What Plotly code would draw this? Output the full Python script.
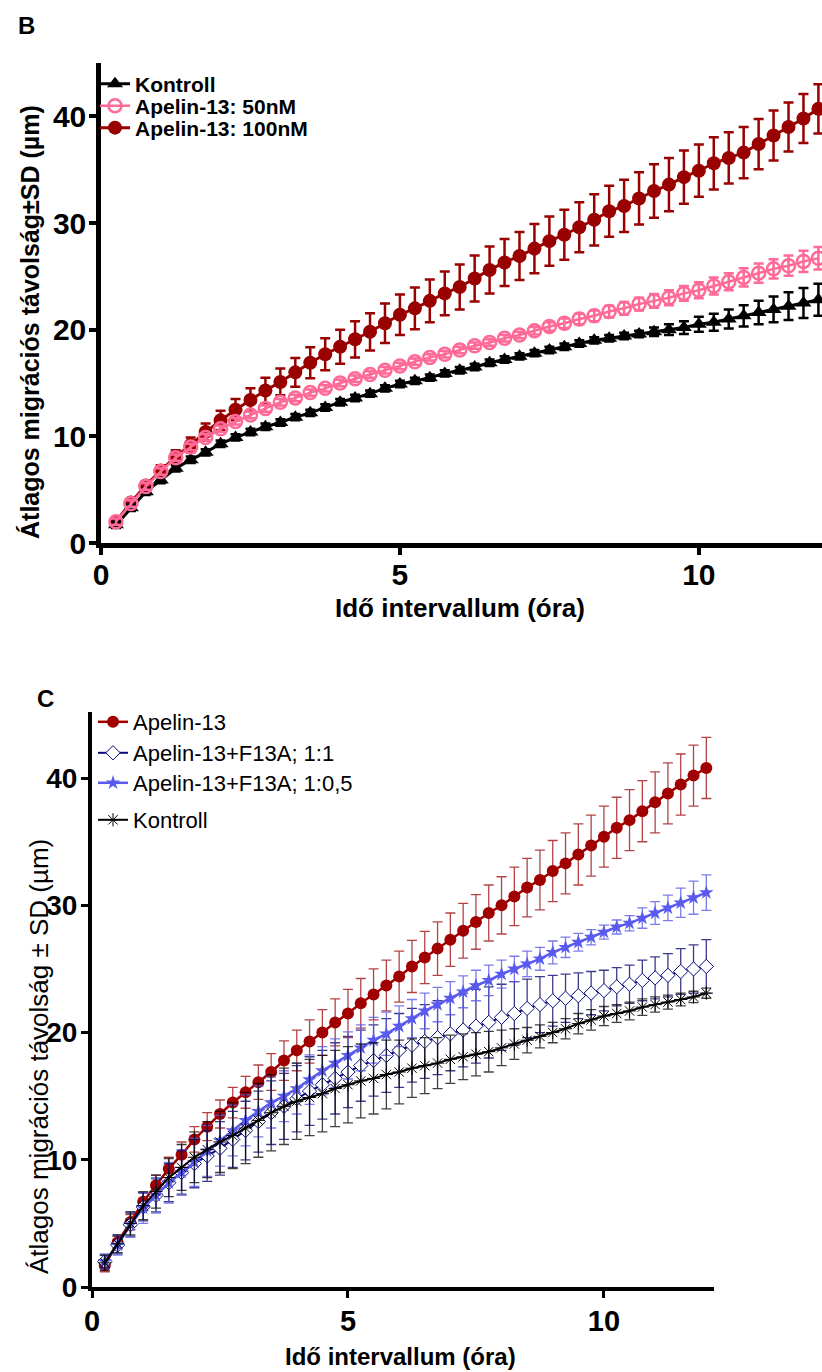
import plotly.graph_objects as go

W, H = 822, 1372

time_h = [0.25, 0.5, 0.75, 1.0, 1.25, 1.5, 1.75, 2.0, 2.25, 2.5, 2.75, 3.0,
          3.25, 3.5, 3.75, 4.0, 4.25, 4.5, 4.75, 5.0, 5.25, 5.5, 5.75, 6.0,
          6.25, 6.5, 6.75, 7.0, 7.25, 7.5, 7.75, 8.0, 8.25, 8.5, 8.75, 9.0,
          9.25, 9.5, 9.75, 10.0, 10.25, 10.5, 10.75, 11.0, 11.25, 11.5, 11.75, 12.0]

# ---- Panel B ----
b_kontroll = [1.7, 3.3, 4.8, 5.9, 7.0, 7.8, 8.5, 9.3, 9.9, 10.4, 10.9, 11.3,
              11.8, 12.2, 12.7, 13.2, 13.6, 14.0, 14.5, 14.9, 15.2, 15.5, 15.9, 16.2,
              16.5, 16.9, 17.2, 17.5, 17.8, 18.1, 18.4, 18.7, 19.0, 19.2, 19.4, 19.6,
              19.8, 20.0, 20.2, 20.5, 20.7, 21.0, 21.3, 21.6, 21.9, 22.2, 22.5, 22.8]
b_kontroll_sd = [0.3] * 36 + [0.4, 0.5, 0.6, 0.7, 0.8, 0.9, 1.0, 1.1, 1.2, 1.3, 1.4, 1.5]

b_50 = [2.0, 3.7, 5.3, 6.7, 8.0, 9.0, 9.9, 10.7, 11.4, 12.0, 12.6, 13.2,
        13.6, 14.1, 14.5, 15.0, 15.4, 15.8, 16.2, 16.6, 17.0, 17.4, 17.7, 18.1,
        18.5, 18.8, 19.2, 19.5, 19.9, 20.3, 20.6, 21.0, 21.3, 21.7, 22.0, 22.4,
        22.7, 23.0, 23.4, 23.7, 24.1, 24.5, 24.9, 25.3, 25.7, 26.0, 26.4, 26.7]
b_50_sd = [0.3] * 28 + [0.35, 0.4, 0.45, 0.5, 0.5, 0.55, 0.6, 0.6, 0.65, 0.7,
                        0.7, 0.75, 0.8, 0.8, 0.85, 0.9, 0.9, 0.95, 1.0, 1.05]

b_100 = [2.0, 3.8, 5.4, 6.8, 8.1, 9.2, 10.4, 11.5, 12.5, 13.4, 14.3, 15.1,
         16.0, 16.9, 17.7, 18.4, 19.1, 19.8, 20.6, 21.4, 22.0, 22.7, 23.4, 24.0,
         24.8, 25.6, 26.3, 26.9, 27.6, 28.3, 28.9, 29.6, 30.3, 31.1, 31.6, 32.3,
         33.0, 33.6, 34.3, 34.9, 35.6, 36.1, 36.6, 37.4, 38.2, 39.0, 39.8, 40.7]
b_100_sd = [0.3, 0.3, 0.4, 0.5, 0.6, 0.7, 0.8, 0.9, 1.0, 1.1, 1.2, 1.25,
            1.35, 1.45, 1.5, 1.6, 1.7, 1.75, 1.85, 1.9, 1.95, 2.0, 2.05, 2.1,
            2.15, 2.2, 2.2, 2.25, 2.3, 2.3, 2.35, 2.35, 2.4, 2.4, 2.45, 2.45,
            2.5, 2.5, 2.5, 2.45, 2.45, 2.4, 2.4, 2.35, 2.35, 2.3, 2.3, 2.3]

# ---- Panel C ----
c_apelin = [1.7, 3.5, 5.1, 6.7, 8.0, 9.3, 10.4, 11.6, 12.6, 13.6, 14.5, 15.3,
            16.1, 16.9, 17.8, 18.6, 19.3, 20.0, 20.8, 21.5, 22.3, 23.0, 23.7, 24.4,
            25.2, 25.9, 26.6, 27.3, 28.0, 28.7, 29.4, 30.0, 30.7, 31.4, 32.0, 32.7,
            33.3, 34.0, 34.7, 35.4, 36.1, 36.7, 37.4, 38.1, 38.8, 39.5, 40.2, 40.8]
c_apelin_sd = [0.5, 0.5, 0.6, 0.7, 0.8, 0.9, 1.0, 1.0, 1.1, 1.1, 1.2, 1.25,
               1.35, 1.45, 1.55, 1.6, 1.7, 1.8, 1.85, 1.9, 1.95, 2.0, 2.0, 2.0,
               2.05, 2.05, 2.1, 2.1, 2.15, 2.15, 2.2, 2.25, 2.3, 2.3, 2.35, 2.4,
               2.4, 2.4, 2.4, 2.4, 2.4, 2.4, 2.4, 2.4, 2.4, 2.4, 2.4, 2.4]

c_f13a_11 = [2.0, 3.3, 4.9, 6.3, 7.2, 8.2, 9.0, 9.7, 10.3, 10.9, 11.6, 12.3,
             13.0, 13.7, 14.2, 14.8, 15.4, 15.9, 16.4, 16.9, 17.4, 17.8, 18.2, 18.6,
             19.0, 19.3, 19.6, 19.9, 20.2, 20.5, 20.8, 21.2, 21.5, 21.9, 22.2, 22.5,
             22.7, 22.9, 23.1, 23.3, 23.6, 23.8, 24.1, 24.3, 24.5, 24.8, 25.0, 25.2]
c_f13a_11_sd = [0.5, 0.7, 0.9, 1.1, 1.3, 1.5, 1.7, 1.9, 2.0, 2.1, 2.2, 2.3,
                2.4, 2.5, 2.6, 2.6, 2.7, 2.7, 2.8, 2.8, 2.8, 2.8, 2.9, 2.9,
                2.9, 2.9, 2.9, 2.9, 2.9, 2.9, 2.8, 2.6, 2.5, 2.3, 2.2, 2.0,
                1.9, 1.8, 1.7, 1.6, 1.5, 1.5, 1.6, 1.65, 1.7, 1.8, 1.9, 2.1]

c_f13a_105 = [2.0, 3.3, 4.9, 6.2, 7.2, 8.2, 9.0, 9.8, 10.7, 11.5, 12.3, 13.1,
              13.8, 14.5, 15.0, 15.6, 16.3, 17.0, 17.6, 18.2, 18.8, 19.4, 19.9, 20.5,
              21.1, 21.7, 22.2, 22.7, 23.2, 23.7, 24.1, 24.6, 25.0, 25.4, 25.8, 26.3,
              26.7, 27.1, 27.5, 27.9, 28.3, 28.6, 29.0, 29.4, 29.8, 30.2, 30.6, 31.0]
c_f13a_105_sd = [0.6, 0.8, 1.0, 1.2, 1.4, 1.6, 1.8, 1.9, 2.0, 2.0, 2.0, 2.0,
                 2.0, 2.0, 2.0, 2.0, 1.95, 1.9, 1.9, 1.85, 1.8, 1.8, 1.7, 1.6,
                 1.5, 1.4, 1.35, 1.3, 1.25, 1.2, 1.2, 1.1, 1.0, 1.0, 0.9, 0.9,
                 0.8, 0.7, 0.6, 0.55, 0.55, 0.6, 0.8, 0.9, 1.0, 1.15, 1.3, 1.4]

c_kontroll = [1.9, 3.4, 5.0, 6.4, 7.5, 8.6, 9.4, 10.2, 10.8, 11.4, 11.9, 12.5,
              13.1, 13.7, 14.2, 14.6, 14.9, 15.2, 15.6, 15.9, 16.2, 16.4, 16.7, 16.9,
              17.2, 17.4, 17.6, 17.9, 18.1, 18.3, 18.5, 18.8, 19.1, 19.4, 19.7, 20.0,
              20.3, 20.7, 21.0, 21.3, 21.5, 21.7, 22.0, 22.2, 22.4, 22.6, 22.8, 23.1]
c_kontroll_sd = [0.6, 0.7, 0.9, 1.1, 1.3, 1.5, 1.8, 2.0, 2.2, 2.4, 2.6, 2.8,
                 2.9, 3.0, 3.0, 3.0, 3.0, 3.0, 3.0, 3.0, 2.9, 2.8, 2.7, 2.5,
                 2.3, 2.2, 2.0, 1.9, 1.8, 1.7, 1.6, 1.4, 1.2, 1.0, 0.9, 0.8,
                 0.8, 0.8, 0.8, 0.75, 0.7, 0.7, 0.65, 0.6, 0.55, 0.5, 0.45, 0.4]

b_x_ticks = [0, 5, 10]
b_y_ticks = [0, 10, 20, 30, 40]
c_x_ticks = [0, 5, 10]
c_y_ticks = [0, 10, 20, 30, 40]

SANS = "Liberation Sans, Arial, sans-serif"


def py(p):
    return 1 - p / H


def px(p):
    return p / W


fig = go.Figure()

# Panel B traces (red first so the pink circles sit on top of it)
fig.add_trace(go.Scatter(
    x=time_h, y=b_100, mode="lines+markers", name="Apelin-13: 100nM",
    line=dict(color="#990000", width=3),
    marker=dict(symbol="circle", size=14, color="#990000"),
    error_y=dict(type="data", array=b_100_sd, visible=True, color="#990000", thickness=2.5, width=5),
    xaxis="x", yaxis="y", legend="legend3"))
fig.add_trace(go.Scatter(
    x=time_h, y=b_kontroll, mode="lines+markers", name="Kontroll",
    line=dict(color="black", width=3),
    marker=dict(symbol="triangle-up", size=14, color="black"),
    error_y=dict(type="data", array=b_kontroll_sd, visible=True, color="black", thickness=2.5, width=5),
    xaxis="x", yaxis="y", legend="legend"))
fig.add_trace(go.Scatter(
    x=time_h, y=b_50, mode="lines+markers", name="Apelin-13: 50nM",
    line=dict(color="#FF6A98", width=2.5),
    marker=dict(symbol="circle-open", size=13, color="#FF6A98", line=dict(width=2.5, color="#FF6A98")),
    error_y=dict(type="data", array=b_50_sd, visible=True, color="#FF6A98", thickness=2.5, width=5),
    xaxis="x", yaxis="y", legend="legend2"))

# Panel C traces
fig.add_trace(go.Scatter(
    x=time_h, y=c_apelin, mode="lines+markers", name="Apelin-13",
    line=dict(color="#A00000", width=2.5),
    marker=dict(symbol="circle", size=12, color="#A00000"),
    error_y=dict(type="data", array=c_apelin_sd, visible=True, color="rgba(160,20,20,0.8)", thickness=1.3, width=5),
    xaxis="x2", yaxis="y2", legend="legend4"))
fig.add_trace(go.Scatter(
    x=time_h, y=c_f13a_11, mode="lines+markers", name="Apelin-13+F13A; 1:1",
    line=dict(color="#0A0A80", width=2),
    marker=dict(symbol="diamond", size=11, color="white", line=dict(width=1, color="#0A0A80")),
    error_y=dict(type="data", array=c_f13a_11_sd, visible=True, color="rgba(10,10,110,0.8)", thickness=1.3, width=5),
    xaxis="x2", yaxis="y2", legend="legend5"))
fig.add_trace(go.Scatter(
    x=time_h, y=c_f13a_105, mode="lines+markers", name="Apelin-13+F13A; 1:0,5",
    line=dict(color="#5A5AEE", width=2.5),
    marker=dict(symbol="star", size=11, color="#5A5AEE"),
    error_y=dict(type="data", array=c_f13a_105_sd, visible=True, color="rgba(90,90,230,0.8)", thickness=1.3, width=5),
    xaxis="x2", yaxis="y2", legend="legend6"))
fig.add_trace(go.Scatter(
    x=time_h, y=c_kontroll, mode="lines+markers", name="Kontroll",
    line=dict(color="black", width=2),
    marker=dict(symbol="asterisk-open", size=11, color="black", line=dict(width=1, color="black")),
    error_y=dict(type="data", array=c_kontroll_sd, visible=True, color="rgba(0,0,0,0.75)", thickness=1.3, width=5),
    xaxis="x2", yaxis="y2", legend="legend7"))

axis_common = dict(showline=True, linecolor="black", showgrid=False, zeroline=False,
                   ticks="outside", tickcolor="black", automargin=False)


def one_legend(xp, yc, size, bold):
    f = dict(family=SANS, size=size, color="black")
    if bold:
        f["weight"] = "bold"
    return dict(x=px(xp), y=py(yc), xanchor="left", yanchor="middle",
                bgcolor="rgba(0,0,0,0)", borderwidth=0, font=f, itemwidth=30)


fig.update_layout(
    template="none",
    width=W, height=H, autosize=False,
    margin=dict(l=0, r=0, t=0, b=0, pad=0),
    paper_bgcolor="white", plot_bgcolor="white",
    xaxis=dict(domain=[px(101), 1.0], range=[0, 12.06], tickvals=b_x_ticks,
               linewidth=4.5, ticklen=7, tickwidth=4, anchor="y", ticklabelstandoff=-6,
               tickfont=dict(family=SANS, size=30, color="black", weight="bold"), **axis_common),
    yaxis=dict(domain=[py(543), py(63)], range=[0, 45], tickvals=b_y_ticks,
               linewidth=4.5, ticklen=7, tickwidth=4, anchor="x", ticklabelstandoff=-3,
               tickfont=dict(family=SANS, size=30, color="black", weight="bold"), **axis_common),
    xaxis2=dict(domain=[px(92), px(714)], range=[0, 12.15], tickvals=c_x_ticks,
                linewidth=4, ticklen=7, tickwidth=3, anchor="y2", ticklabelstandoff=-2,
                tickfont=dict(family=SANS, size=29, color="black", weight="bold"), **axis_common),
    yaxis2=dict(domain=[py(1287), py(712)], range=[0, 45.2], tickvals=c_y_ticks,
                linewidth=4, ticklen=7, tickwidth=3, anchor="x2", ticklabelstandoff=-2,
                tickfont=dict(family=SANS, size=28, color="black", weight="bold"), **axis_common),
    legend=one_legend(95, 84, 21, True),
    legend2=one_legend(95, 106, 21, True),
    legend3=one_legend(95, 128, 21, True),
    legend4=one_legend(93, 722, 22, False),
    legend5=one_legend(93, 753, 22, False),
    legend6=one_legend(93, 783, 22, False),
    legend7=one_legend(93, 820, 22, False),
    showlegend=True,
)

annotations = [
    dict(text="B", x=px(16), y=py(26), xanchor="left", yanchor="middle",
         font=dict(family=SANS, size=24, color="black", weight="bold")),
    dict(text="C", x=px(35), y=py(698), xanchor="left", yanchor="middle",
         font=dict(family=SANS, size=24, color="black", weight="bold")),
    dict(text="Idő intervallum (óra)", x=px(460), y=py(608), xanchor="center", yanchor="middle",
         font=dict(family=SANS, size=26, color="black", weight="bold")),
    dict(text="Átlagos migrációs távolság±SD (µm)", x=px(30), y=py(322), xanchor="center",
         yanchor="middle", textangle=-90,
         font=dict(family=SANS, size=25, color="black", weight="bold")),
    dict(text="Idő intervallum (óra)", x=px(400), y=py(1356), xanchor="center", yanchor="middle",
         font=dict(family=SANS, size=24, color="black", weight="bold")),
    dict(text="Átlagos migrációs távolság ± SD (µm)", x=px(39), y=py(1057), xanchor="center",
         yanchor="middle", textangle=-90,
         font=dict(family=SANS, size=26, color="black")),
]
for a in annotations:
    a.update(xref="paper", yref="paper", showarrow=False)
fig.update_layout(annotations=annotations)

fig.write_html("out.html")
